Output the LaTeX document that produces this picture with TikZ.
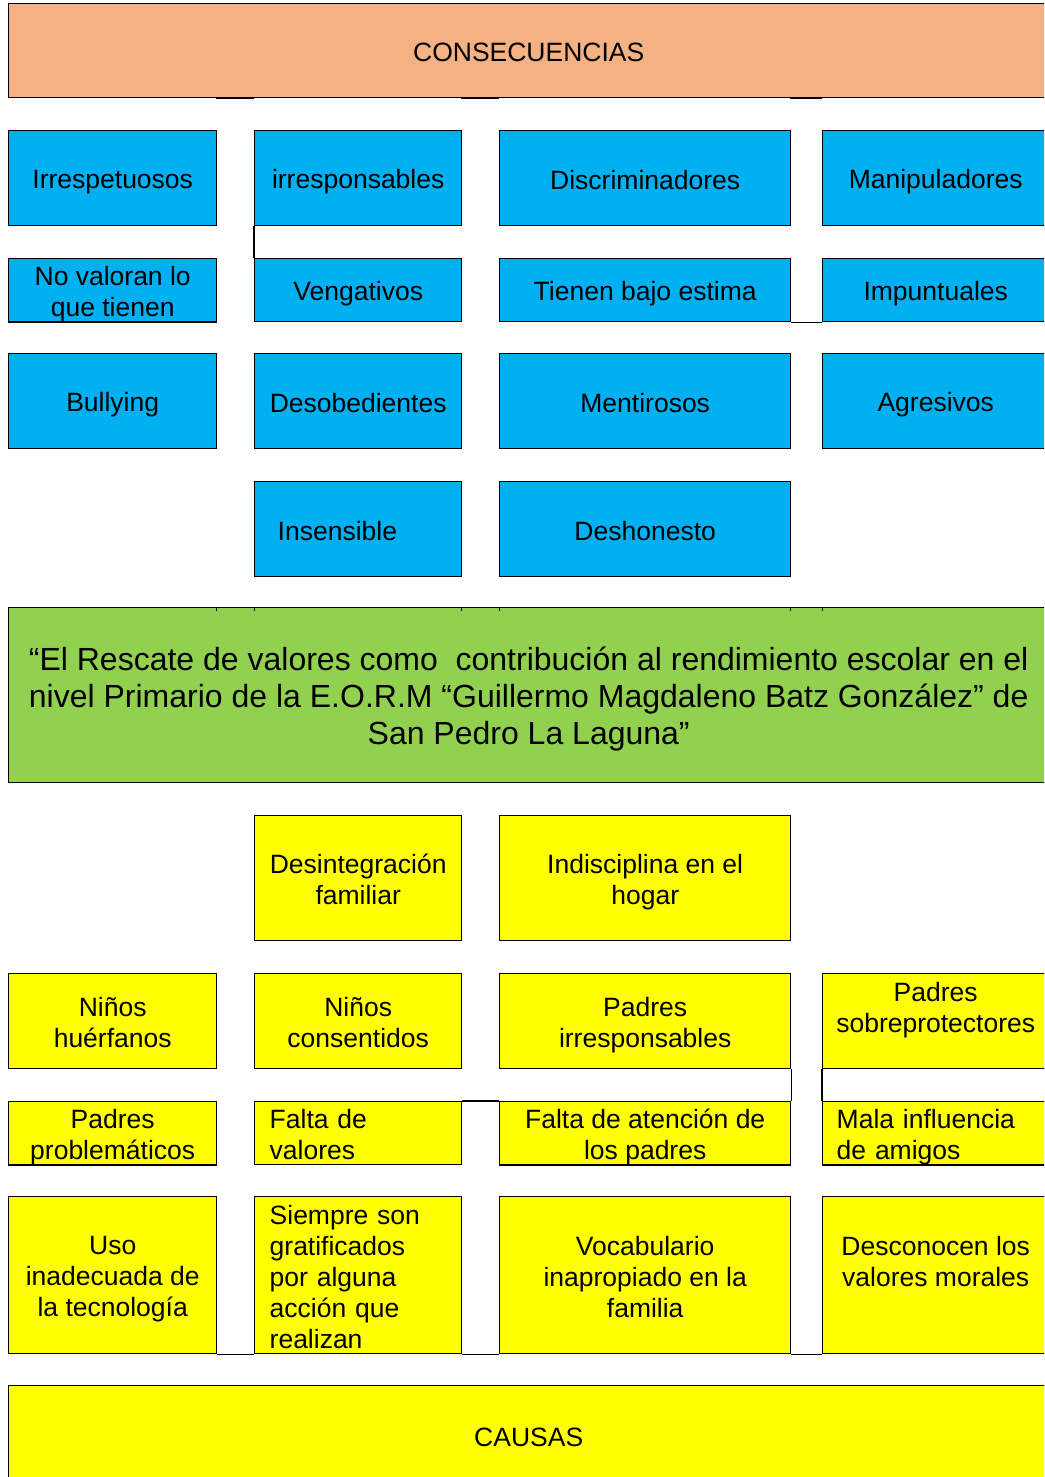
\documentclass[tikz,border=0pt]{standalone}
\usepackage{fontspec}
\setmainfont{Liberation Sans}
\definecolor{cOrange}{HTML}{F4B183}
\definecolor{cBlue}{HTML}{00B0F0}
\definecolor{cGreen}{HTML}{92D050}
\definecolor{cYellow}{HTML}{FFFF00}
\def\shamt{5pt}
\newcommand\topstrut{\rule{0pt}{\dimexpr0.7\baselineskip+\shamt\relax}}
\newcommand\botstrut{\rule[\dimexpr-0.3\baselineskip+\shamt\relax]{0pt}{0pt}}
\begin{document}
\begin{tikzpicture}[x=1pt,y=-1pt,
  bx/.style={draw=black,line width=1.4pt,inner sep=0pt,anchor=north west,align=center,
    font=\fontsize{26.5}{31}\selectfont,
    execute at begin node=\topstrut, execute at end node=\botstrut},
  cbox/.style={bx,fill=cBlue},
  ybox/.style={bx,fill=cYellow},
  wA/.style={minimum width=208pt},
  wB/.style={minimum width=207pt},
  wC/.style={minimum width=291pt},
  wD/.style={minimum width=226pt},
  hA/.style={minimum height=95pt},
  hB/.style={minimum height=63pt},
  lft/.style={align=left,inner xsep=#1},
  conn/.style={draw=black,line width=1.4pt},
]
\useasboundingbox (0,0) rectangle (1044,1477);
\clip (0,0) rectangle (1044,1477);
\fill[white] (0,0) rectangle (1044,1477);

% top banner
\node[bx,fill=cOrange,minimum width=1040pt,minimum height=94pt] (cons) at (8,3) {CONSECUENCIAS};
\draw[line width=2.5pt] (216,98) -- (254,98);
\draw[line width=2.5pt] (461,98) -- (499,98);
\draw[line width=2.5pt] (790,98) -- (822,98);

% consequences row 1
\node[cbox,wA,hA] (irp) at (8,130) {Irrespetuosos};
\node[cbox,wB,hA] (irr) at (254,130) {irresponsables};
\node[cbox,wC,hA] (dis) at (499,130) {Discriminadores};
\node[cbox,wD,hA] (man) at (822,130) {Manipuladores};
% row 2
\node[cbox,wA,hB] (nov) at (8,258) {\topstrut No valoran lo\\que tienen};
\node[cbox,wB,hB] (ven) at (254,258) {Vengativos};
\node[cbox,wC,hB] (tbe) at (499,258) {Tienen bajo estima};
\node[cbox,wD,hB] (imp) at (822,258) {Impuntuales};
% row 3
\node[cbox,wA,hA] (bul) at (8,353) {Bullying};
\node[cbox,wB,hA] (des) at (254,353) {Desobedientes};
\node[cbox,wC,hA] (men) at (499,353) {Mentirosos};
\node[cbox,wD,hA] (agr) at (822,353) {Agresivos};
% row 4
\node[cbox,wB,hA,lft=23pt,text width=161pt] (ins) at (254,481) {Insensible};
\node[cbox,wC,hA] (dsh) at (499,481) {Deshonesto};

\draw[conn] (irr.south west) -- (ven.north west);
\draw[conn] (tbe.south east) -- (imp.south west);

% green banner
\node[bx,fill=cGreen,minimum width=1040pt,minimum height=175pt,
  font=\fontsize{32}{37}\selectfont] (tit) at (8,607)
  {\topstrut “El Rescate de valores como~ contribución al rendimiento escolar en el\\
   nivel Primario de la E.O.R.M “Guillermo Magdaleno Batz González” de\\
   San Pedro La Laguna”};
\foreach \xx in {216,254,461,499,790,822}
  \draw[line width=0.8pt] (\xx,607) -- (\xx,611);

% causes row 1
\node[ybox,wB,minimum height=125pt] (dfa) at (254,815) {\topstrut Desintegración\\familiar};
\node[ybox,wC,minimum height=125pt] (ind) at (499,815) {\topstrut Indisciplina en el\\hogar};
% row 2
\node[ybox,wA,hA] (nhu) at (8,973) {\topstrut Niños\\huérfanos};
\node[ybox,wB,hA] (nco) at (254,973) {\topstrut Niños\\consentidos};
\node[ybox,wC,hA] (pir) at (499,973) {\topstrut Padres\\irresponsables};
\node[ybox,wD,hA] (pso) at (822,973) {\topstrut Padres\\sobreprotectores\\\mbox{}};
% row 3
\node[ybox,wA,hB] (ppr) at (8,1101) {\topstrut Padres\\problemáticos};
\node[ybox,wB,hB,lft=15pt,text width=177pt] (fva) at (254,1101) {\topstrut Falta de\\valores};
\node[ybox,wC,hB] (fat) at (499,1101) {\topstrut Falta de atención de\\los padres};
\node[ybox,wD,hB,lft=14pt,text width=198pt] (mal) at (822,1101) {\topstrut Mala influencia\\de amigos};
% row 4
\node[ybox,wA,minimum height=157pt] (uso) at (8,1196) {\topstrut Uso\\inadecuada de\\la tecnología};
\node[ybox,wB,minimum height=157pt,lft=15pt,text width=177pt] (sie) at (254,1196)
  {\topstrut Siempre son\\gratificados\\por alguna\\acción que\\realizan};
\node[ybox,wC,minimum height=157pt] (voc) at (499,1196) {\topstrut Vocabulario\\inapropiado en la\\familia};
\node[ybox,wD,minimum height=157pt] (dva) at (822,1196) {\topstrut Desconocen los\\valores morales\\\mbox{}};

\draw[conn] (pir.south east) -- (fat.north east);
\draw[conn] (pso.south west) -- (mal.north west);
\draw[conn] (fva.north east) -- (fat.north west);
\draw[conn] (uso.south east) -- (sie.south west);
\draw[conn] (sie.south east) -- (voc.south west);
\draw[conn] (voc.south east) -- (dva.south west);

% bottom banner
\node[ybox,minimum width=1040pt,minimum height=100pt] (cau) at (8,1385) {CAUSAS};
\end{tikzpicture}
\end{document}
